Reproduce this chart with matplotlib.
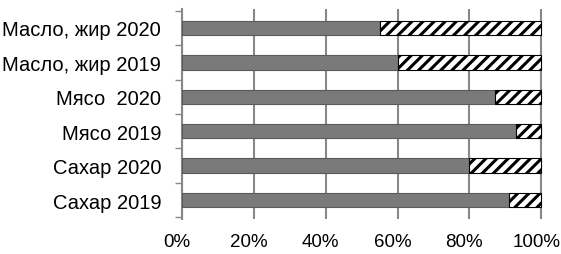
import matplotlib
matplotlib.use("Agg")
import matplotlib.pyplot as plt
import matplotlib.transforms as mtransforms
import numpy as np

plt.rcParams['font.family'] = ['Liberation Sans', 'DejaVu Sans']
plt.rcParams['hatch.linewidth'] = 2.2

categories = ["Сахар 2019", "Сахар 2020", "Мясо 2019", "Мясо  2020", "Масло, жир 2019", "Масло, жир 2020"]
share_a = [0.91, 0.80, 0.93, 0.87, 0.60, 0.55]
share_b = [1 - v for v in share_a]
xticks = [0, 0.2, 0.4, 0.6, 0.8, 1.0]
xticklabels = ["0%", "20%", "40%", "60%", "80%", "100%"]

W, H = 561, 255
fig = plt.figure(figsize=(W / 100, H / 100), dpi=100)
left, right = 182, 543
top, bottom = 10, 220
ax = fig.add_axes([left / W, 1 - bottom / H, (right - left) / W, (bottom - top) / H])

y = np.arange(len(categories))
ax.barh(y, share_a, height=0.42, color="#7a7a7a", edgecolor="#5a5a5a", linewidth=0.8, zorder=3)
ax.barh(y, share_b, left=share_a, height=0.42, color="white", edgecolor="black",
        hatch="///", linewidth=0.8, zorder=3)

ax.set_xlim(0, 1.005)
ax.set_ylim(-0.55, len(categories) - 0.45)
ax.set_xticks(xticks)
ax.set_xticklabels(xticklabels, fontsize=13.5)
ax.set_yticks(y)
ax.set_yticklabels(categories, fontsize=14.5)
ax.set_yticks(np.arange(-0.5, len(categories), 1), minor=True)
ax.tick_params(axis='y', which='major', length=0, pad=15)
ax.tick_params(axis='y', which='minor', length=5, color="#888888", width=1)
ax.tick_params(axis='x', length=0, pad=10)
ax.grid(axis='x', color="#888888", linewidth=1.5, zorder=0)
for s in ['top', 'right', 'bottom']:
    ax.spines[s].set_visible(False)
ax.spines['left'].set_color("#888888")
ax.spines['left'].set_linewidth(1.5)

offset = mtransforms.ScaledTranslation(-5 / 100, 0, fig.dpi_scale_trans)
for lab in ax.get_xticklabels():
    lab.set_transform(lab.get_transform() + offset)

fig.savefig("out.png", dpi=100)
